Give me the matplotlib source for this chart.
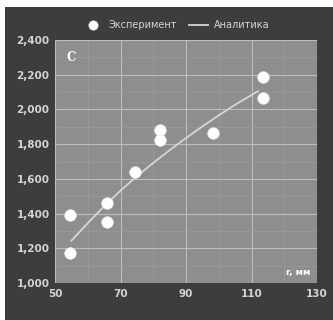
import matplotlib
matplotlib.use("Agg")
import matplotlib.pyplot as plt
from matplotlib.patches import Rectangle
from matplotlib.ticker import FuncFormatter, MultipleLocator

# experiment points (r, mm)
exp_x = [54.6, 54.6, 65.9, 65.9, 74.4, 82.1, 82.1, 98.2, 113.5, 113.5]
exp_y = [1392, 1173, 1461, 1352, 1640, 1882, 1824, 1864, 2187, 2066]

# analytic curve
ana_x = [55, 60, 65, 70, 75, 80, 85, 90, 95, 100, 105, 112]
ana_y = [1244, 1345, 1442, 1532, 1615, 1692, 1765, 1835, 1902, 1966, 2027, 2105]

x_ticks = [50, 70, 90, 110, 130]
y_ticks = [1000, 1200, 1400, 1600, 1800, 2000, 2200, 2400]

dark = "#3d3d3d"
plot_bg = "#8e8e8e"
txt = "#d4d4d4"

fig = plt.figure(figsize=(3.33, 3.2), dpi=100)
fig.patch.set_facecolor("white")
fig.patches.append(Rectangle((5 / 333, 0), 1, 1 - 7 / 320, transform=fig.transFigure,
                             facecolor=dark, edgecolor="none", zorder=-10))

ax = fig.add_axes([55 / 333, 1 - 283 / 320, 262 / 333, 243 / 320])
ax.set_facecolor(plot_bg)
ax.set_xlim(50, 130)
ax.set_ylim(1000, 2400)
ax.set_xticks(x_ticks)
ax.set_yticks(y_ticks)
ax.xaxis.set_minor_locator(MultipleLocator(10))
ax.yaxis.set_minor_locator(MultipleLocator(100))
ax.yaxis.set_major_formatter(FuncFormatter(lambda v, p: f"{int(v):,}"))
ax.grid(True, which="major", color="#bdbdbd", lw=0.8)
ax.grid(True, which="minor", color="#9c9c9c", lw=0.5)
ax.set_axisbelow(True)
for s in ax.spines.values():
    s.set_visible(False)
ax.tick_params(which="both", length=0, colors=txt, labelsize=7.5, pad=4)
for lab in ax.get_xticklabels() + ax.get_yticklabels():
    lab.set_fontweight("bold")

ax.plot(ana_x, ana_y, color="#d6d6d6", lw=1.3, label="Аналитика", zorder=3)
ax.scatter(exp_x, exp_y, s=70, color="white", edgecolors="#e8e8e8", lw=0.5,
           label="Эксперимент", zorder=4)

ax.text(0.045, 0.93, "C", transform=ax.transAxes, color="white", fontsize=8.5,
        fontweight="bold", family="DejaVu Serif", ha="left", va="center")
ax.text(0.975, 0.045, "r, мм", transform=ax.transAxes, color="white", fontsize=6.5,
        fontweight="bold", ha="right", va="center")

h, l = ax.get_legend_handles_labels()
fig.legend(h[::-1], l[::-1], loc="center", bbox_to_anchor=(0.53, 0.922), ncol=2,
           frameon=False, fontsize=7, labelcolor=txt, handlelength=2.0,
           columnspacing=1.2, handletextpad=0.6, markerscale=0.8)

fig.savefig("out.png", dpi=100)
